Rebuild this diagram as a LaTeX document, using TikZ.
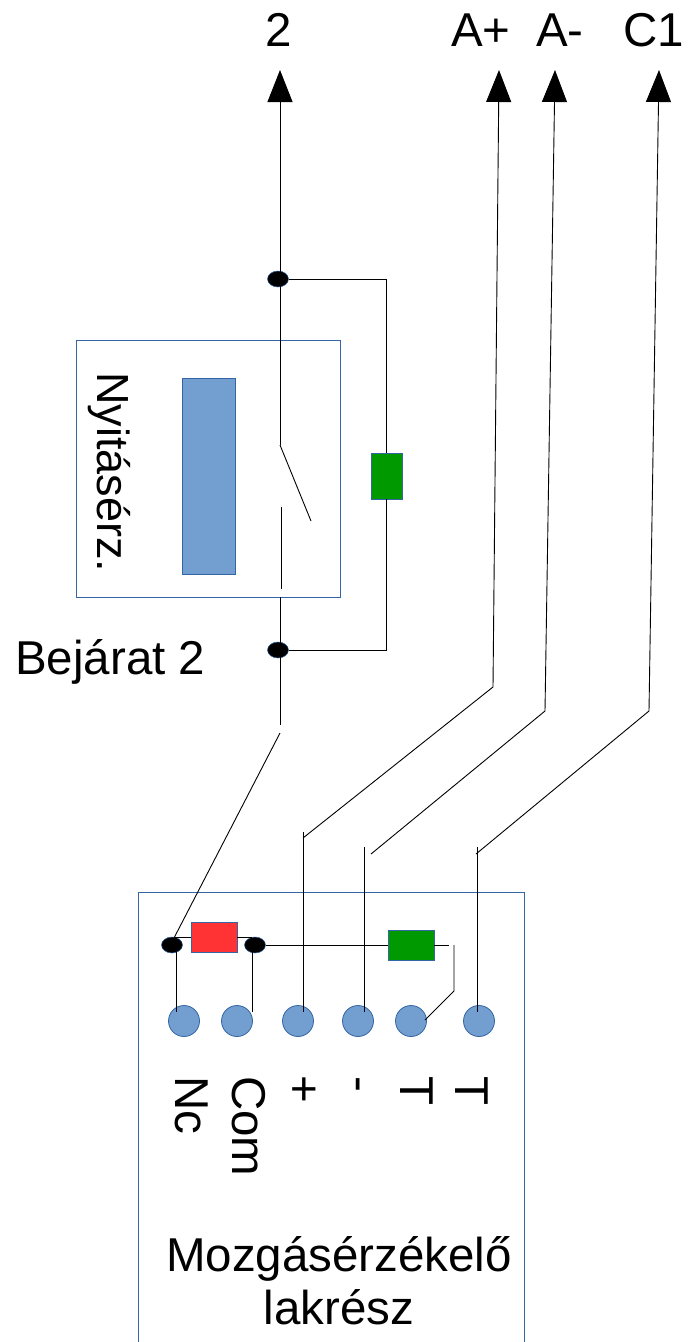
\documentclass[tikz,border=0pt]{standalone}
\usepackage{fontspec}
\setmainfont{Liberation Sans}
\usetikzlibrary{shapes.geometric,arrows.meta}
\definecolor{edgeblue}{HTML}{3465A4}
\definecolor{fillblue}{HTML}{729FCF}
\definecolor{partgreen}{HTML}{009900}
\definecolor{partred}{HTML}{FF3333}

\begin{document}
\begin{tikzpicture}[x=1pt, y=-1pt,
    wire/.style = {draw=black, line width=0.9pt},
    feed/.style = {wire, -{Triangle[length=32pt,width=25pt]}},
    frame/.style = {rectangle, draw=edgeblue, line width=0.8pt, inner sep=0pt},
    part/.style = {rectangle, draw=edgeblue, line width=0.8pt, inner sep=0pt},
    joint/.style = {ellipse, fill=black, draw=edgeblue, line width=0.5pt,
                    minimum width=21pt, minimum height=16pt, inner sep=0pt},
    pin/.style = {circle, fill=fillblue, draw=edgeblue, line width=0.8pt,
                  minimum size=31pt, inner sep=0pt},
    label/.style = {font=\fontsize{47.5}{53}\selectfont, inner sep=0pt},
    pinlabel/.style = {label, rotate=-90, anchor=base west},
    ]
\useasboundingbox (0,0) rectangle (690,1342);

% upper part
\node[frame, minimum width=264pt, minimum height=257pt] (doorbox) at (208.5,468.5) {};
\node[part, fill=fillblue, minimum width=53pt, minimum height=196pt] (coil) at (208.5,476) {};
\node[part, fill=partgreen, minimum width=31pt, minimum height=46pt] (upgreen) at (386.5,476) {};
\node[joint] (dottop) at (278,279) {};
\node[joint] (dotbot) at (278,650) {};

\node[label] (lbltwo) at (279,46) [anchor=base] {2};
\node[label] (lblap) at (481,46) [anchor=base] {A+};
\node[label] (lblam) at (560,46) [anchor=base] {A-};
\node[label] (lblc) at (654,46) [anchor=base] {C1};
\node[label, font=\fontsize{45}{53}\selectfont, rotate=-90, anchor=base west] (lbldoor) at (97,372) {Nyitásérz.};
\node[label, anchor=base west] (lblbej) at (15,674) {Bejárat 2};

% sensor box
\coordinate (boxbl) at (138.5,1342);
\coordinate (boxtl) at (138.5,892);
\coordinate (boxtr) at (524,892);
\coordinate (boxbr) at (524,1342);
\draw[draw=edgeblue, line width=0.8pt] (boxbl) -- (boxtl) -- (boxtr) -- (boxbr);

\node[joint] (dotnc) at (172,945) {};
\node[joint] (dotcom) at (255,945) {};
\node[part, fill=partred, minimum width=46pt, minimum height=30pt] (lowred) at (214,937) {};
\node[part, fill=partgreen, minimum width=46pt, minimum height=30pt] (lowgreen) at (411,945) {};

\node[pin] (pinnc) at (184,1021) {};
\node[pin] (pincom) at (237,1021) {};
\node[pin] (pinplus) at (298,1021) {};
\node[pin] (pinminus) at (358,1021) {};
\node[pin] (pintone) at (411,1021) {};
\node[pin] (pinttwo) at (479,1021) {};

\node[pinlabel] (lblnc) at (175,1076) {Nc};
\node[pinlabel] (lblcom) at (232,1076) {Com};
\node[pinlabel] (lblplus) at (288,1075) {+};
\node[pinlabel] (lblminus) at (345,1076) {-};
\node[pinlabel] (lblttone) at (400,1076) {T};
\node[pinlabel] (lbltttwo) at (455,1076) {T};
\node[label, align=center] (lblsensor) at (339,1281) {Mozgásérzékelő\\lakrész};

% free ends and bends
\coordinate (tiptwo) at (280,70);
\coordinate (swhinge) at (280,445);
\coordinate (swend) at (311,521);
\coordinate (contop) at (281,507);
\coordinate (conbot) at (281,589);
\coordinate (lowtop) at (280,597);
\coordinate (lowend) at (280,725);
\coordinate (diagtop) at (280,733);
\coordinate (diagbot) at (174,938);

\coordinate (tipap) at (499,70);
\coordinate (bendap) at (493,687);
\coordinate (endap) at (303,838);
\coordinate (topplus) at (303,832);
\coordinate (tipam) at (555,70);
\coordinate (bendam) at (545,711);
\coordinate (endam) at (371,854);
\coordinate (topminus) at (364,847);
\coordinate (tipc) at (659,70);
\coordinate (bendc) at (649,711);
\coordinate (endc) at (476,854);
\coordinate (toptt) at (477,847);
\coordinate (pinplustop) at (303,1012);
\coordinate (pinminustop) at (364,1012);
\coordinate (pintttop) at (477,1012);

% wires
\draw[feed] (swhinge) -- (tiptwo);
\draw[wire] (swhinge) -- (swend);
\draw[wire] (contop) -- (conbot);
\draw[wire] (lowtop) -- (lowend);
\draw[wire] (diagtop) -- (diagbot);
\draw[wire] (dottop.east) -| (upgreen.north);
\draw[wire] (dotbot.east) -| (upgreen.south);

\draw[feed] (endap) -- (bendap) -- (tipap);
\draw[feed] (endam) -- (bendam) -- (tipam);
\draw[feed] (endc) -- (bendc) -- (tipc);
\draw[wire] (topplus) -- (pinplustop);
\draw[wire] (topminus) -- (pinminustop);
\draw[wire] (toptt) -- (pintttop);

\coordinate (ncleft) at (175,937.5);
\coordinate (comright) at (252,937.5);
\coordinate (ncdown) at (176,952);
\coordinate (ncpin) at (176,1012);
\coordinate (comdown) at (252,952);
\coordinate (compin) at (252,1012);
\coordinate (greenend) at (449,945);
\coordinate (loopa) at (454,945);
\coordinate (loopb) at (454,991);
\coordinate (loopc) at (425,1020);

\draw[wire] (ncleft) -- (lowred.west |- ncleft);
\draw[wire] (lowred.east |- comright) -- (comright);
\draw[wire] (ncdown) -- (ncpin);
\draw[wire] (comdown) -- (compin);
\draw[wire] (dotcom.east) -- (lowgreen.west);
\draw[wire] (lowgreen.east) -- (greenend);
\draw[wire] (loopa) -- (loopb) -- (loopc);
\end{tikzpicture}
\end{document}
